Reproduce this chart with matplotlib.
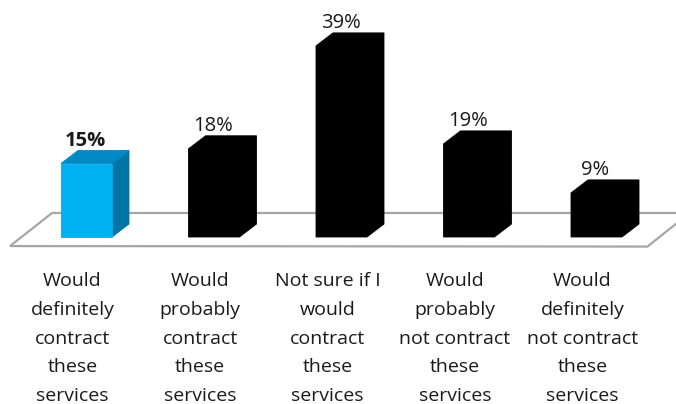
import matplotlib
matplotlib.use("Agg")
import matplotlib.pyplot as plt
from matplotlib.patches import Polygon

categories = [
    "Would\ndefinitely\ncontract\nthese\nservices",
    "Would\nprobably\ncontract\nthese\nservices",
    "Not sure if I\nwould\ncontract\nthese\nservices",
    "Would\nprobably\nnot contract\nthese\nservices",
    "Would\ndefinitely\nnot contract\nthese\nservices",
]
values = [15, 18, 39, 19, 9]
value_labels = ["15%", "18%", "39%", "19%", "9%"]

plt.rcParams["font.family"] = ["Open Sans", "DejaVu Sans"]

W, H = 676, 404
fig = plt.figure(figsize=(W / 100, H / 100), dpi=100)
ax = fig.add_axes([0, 0, 1, 1])

# axis units: one category per unit on x, one percent per unit on y
px_per_cat = 127.5
px_per_pct = 4.9
x_first = 86.5          # pixel centre of the first bar front face
y_zero = 237            # pixel row of the bar bases
ax.set_xlim(-x_first / px_per_cat, (W - x_first) / px_per_cat)
ax.set_ylim(-(H - y_zero) / px_per_pct, y_zero / px_per_pct)
ax.axis("off")

bar_w = 51 / px_per_cat
dx = 17 / px_per_cat
dy = 13 / px_per_pct

# floor of the pseudo-3D chart
floor = [(-0.60, -1.85), (4.40, -1.95), (4.73, 4.9), (-0.27, 4.9)]
ax.add_patch(Polygon(floor, closed=True, facecolor="white",
                     edgecolor="#a6a6a6", lw=1.6, zorder=1))

for i, v in enumerate(values):
    x0 = i - bar_w / 2
    x1 = i + bar_w / 2
    front = [(x0, 0), (x1, 0), (x1, v), (x0, v)]
    top = [(x0, v), (x1, v), (x1 + dx, v + dy), (x0 + dx, v + dy)]
    side = [(x1, 0), (x1 + dx, dy), (x1 + dx, v + dy), (x1, v)]
    if i == 0:
        for poly, c in ((side, "#0075a8"), (top, "#0089c4"),
                        (front, "#00b0f0")):
            ax.add_patch(Polygon(poly, closed=True, facecolor=c,
                                 edgecolor=c, lw=0.6, zorder=2))
    else:
        outline = [(x0, 0), (x1, 0), (x1 + dx, dy), (x1 + dx, v + dy),
                   (x0 + dx, v + dy), (x0, v)]
        ax.add_patch(Polygon(outline, closed=True, facecolor="black",
                             edgecolor="black", lw=0.6, zorder=2))
    ax.annotate(value_labels[i], (i, v + dy), xytext=(-1, 10),
                textcoords="offset pixels", ha="center", va="center",
                fontsize=14.5, color="#1a1a1a",
                fontweight="bold" if i == 0 else "normal", zorder=3)

for i, lab in enumerate(categories):
    ax.text(i - 14 / px_per_cat, -(272 - y_zero) / px_per_pct, lab,
            ha="center", va="top", fontsize=14, color="#1a1a1a",
            linespacing=1.77)

fig.savefig("out.png", dpi=100)
